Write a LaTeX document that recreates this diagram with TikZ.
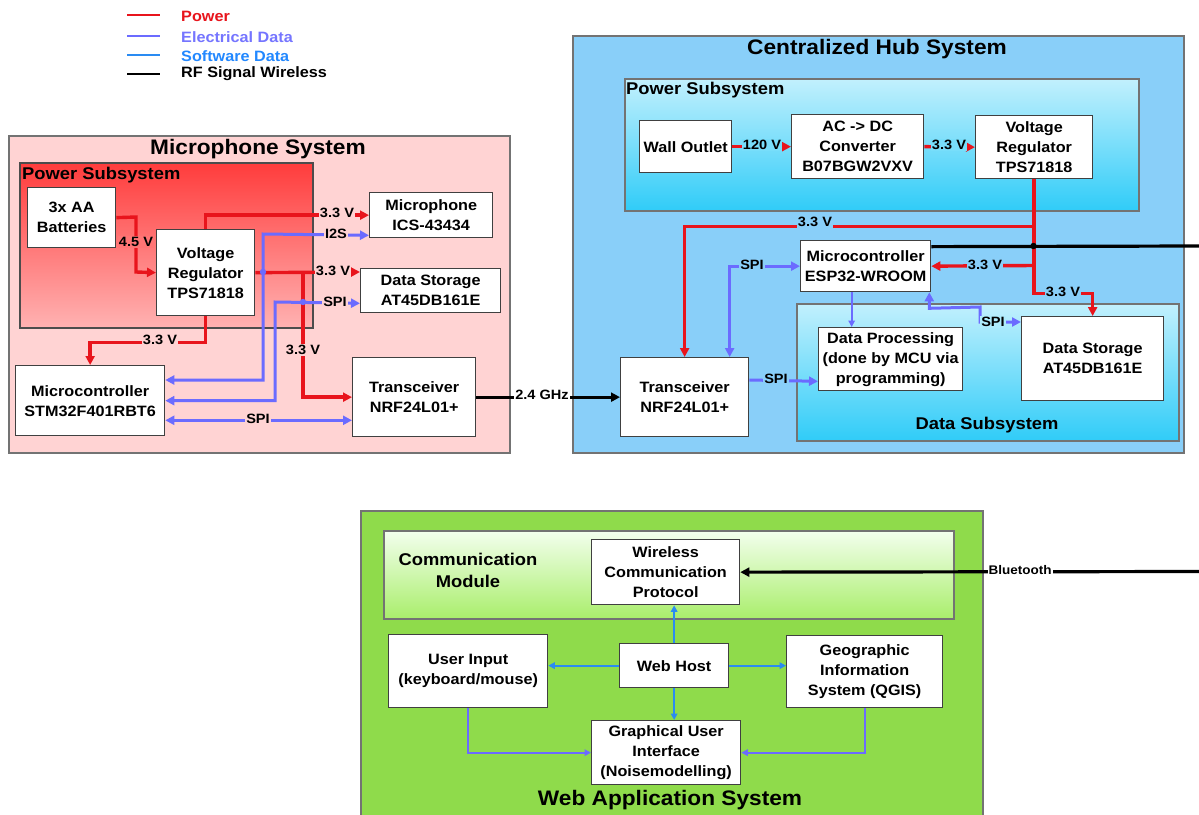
\documentclass[tikz,border=0pt]{standalone}
\usepackage{fontspec}
\setmainfont{Liberation Sans}[FakeStretch=1.08]
\usetikzlibrary{arrows.meta,calc}
\definecolor{pred}{HTML}{E8141C}
\definecolor{epur}{HTML}{6B6BFF}
\definecolor{sblu}{HTML}{2A8BF2}
\definecolor{micbg}{HTML}{FFD3D3}
\definecolor{mictop}{HTML}{FF3C3C}
\definecolor{micbot}{HTML}{FFB2B2}
\definecolor{hubbg}{HTML}{89CFF9}
\definecolor{cyantop}{HTML}{C2F0FD}
\definecolor{cyanbot}{HTML}{30CCF8}
\definecolor{webbg}{HTML}{8FDB4B}
\definecolor{gtop}{HTML}{F3FFEE}
\definecolor{gbot}{HTML}{A9EE6B}
\definecolor{legpur}{HTML}{7575FF}
\definecolor{legblu}{HTML}{2288FF}
\begin{document}
\begin{tikzpicture}[x=1pt,y=-1pt,
 box/.style={draw=black!75, line width=1.3pt, fill=white, align=center, inner sep=0pt, font=\fontsize{15}{20}\selectfont\bfseries, anchor=north west},
 cont/.style={draw=black!55, line width=1.6pt, inner sep=0pt, anchor=north west},
 pw/.style={draw=pred, line width=3.4pt},
 ed/.style={draw=epur, line width=3pt},
 edt/.style={draw=epur, line width=1.8pt},
 sd/.style={draw=sblu, line width=1.8pt},
 rf/.style={draw=black, line width=3.2pt},
 tipa/.style={-{Triangle[length=9pt,width=9pt]}},
 tipb/.style={{Triangle[length=9pt,width=9pt]}-{Triangle[length=9pt,width=9pt]}},
 tipc/.style={-{Triangle[length=6.5pt,width=6.5pt]}},
 lbl/.style={font=\fontsize{13.5}{14}\selectfont\bfseries, inner sep=1pt},
 ttl/.style={font=\fontsize{21}{24}\selectfont\bfseries},
 sub/.style={font=\fontsize{17}{22}\selectfont\bfseries},
 leg/.style={font=\fontsize{15}{16}\selectfont\bfseries, anchor=west, inner sep=0pt}
]
\useasboundingbox[fill=white] (0,0) rectangle (1199,814);

% legend
\node[leg, text=pred] (lp) at (181,16) {Power};
\node[leg, text=legpur] (le) at (181,37) {Electrical Data};
\node[leg, text=legblu] (ls) at (181,56) {Software Data};
\node[leg] (lr) at (181,74) {RF Signal Wireless};
\draw[pred, line width=2.2pt] ($(lp.west)+(-54,-1)$) -- ($(lp.west)+(-21,-1)$);
\draw[epur, line width=2.2pt] ($(le.west)+(-54,-1)$) -- ($(le.west)+(-21,-1)$);
\draw[sblu, line width=2.2pt] ($(ls.west)+(-54,-1)$) -- ($(ls.west)+(-21,-1)$);
\draw[black, line width=2.2pt] ($(lr.west)+(-54,0)$) -- ($(lr.west)+(-21,0)$);

% containers
\node[cont, fill=micbg, minimum width=501, minimum height=317] (micsys) at (8,135) {};
\node[ttl] (micttl) at (258,149) {Microphone System};
\node[cont, draw=black!70, top color=mictop, bottom color=micbot, minimum width=293, minimum height=165] (micpow) at (19,162) {};
\node[sub, anchor=west, inner sep=0pt] (micpowt) at (22,175) {Power Subsystem};

\node[cont, fill=hubbg, minimum width=611, minimum height=417] (hubsys) at (572,35) {};
\node[ttl] (hubttl) at (877,49) {Centralized Hub System};
\node[cont, top color=cyantop, bottom color=cyanbot, minimum width=514, minimum height=132] (hubpow) at (624,78) {};
\node[sub, anchor=west, inner sep=0pt] (hubpowt) at (626,90) {Power Subsystem};
\node[cont, top color=cyantop, bottom color=cyanbot, minimum width=382, minimum height=137] (datasub) at (796,303) {};
\node[sub] (datasubt) at (987,425) {Data Subsystem};

\node[cont, fill=webbg, minimum width=622, minimum height=330] (websys) at (360,510) {};
\node[cont, top color=gtop, bottom color=gbot, minimum width=570, minimum height=88] (comm) at (383,530) {};
\node[sub, align=center] (commt) at (468,570) {Communication\\Module};
\node[ttl] (webttl) at (670,800) {Web Application System};

% boxes microphone
\node[box, minimum width=88, minimum height=60] (bat) at (27,187) {3x AA\\Batteries};
\node[box, minimum width=98, minimum height=86] (reg) at (156,229) {Voltage\\Regulator\\TPS71818};
\node[box, minimum width=123, minimum height=45] (mic) at (369,192) {Microphone\\ICS-43434};
\node[box, minimum width=140, minimum height=44] (mds) at (360,268) {Data Storage\\AT45DB161E};
\node[box, minimum width=149, minimum height=70] (mcu) at (15,365) {Microcontroller\\STM32F401RBT6};
\node[box, minimum width=123, minimum height=79] (trx) at (352,357) {Transceiver\\NRF24L01+};

% boxes hub
\node[box, minimum width=92, minimum height=52] (wall) at (639,120) {Wall Outlet};
\node[box, minimum width=132, minimum height=64] (acdc) at (791,114) {AC -> DC\\Converter\\B07BGW2VXV};
\node[box, minimum width=117, minimum height=63] (hreg) at (975,115) {Voltage\\Regulator\\TPS71818};
\node[box, minimum width=130, minimum height=51] (esp) at (800,240) {Microcontroller\\ESP32-WROOM};
\node[box, minimum width=144, minimum height=63] (dp) at (818,327) {Data Processing\\(done by MCU via\\programming)};
\node[box, minimum width=142, minimum height=84] (hds) at (1021,316) {Data Storage\\AT45DB161E};
\node[box, minimum width=128, minimum height=79] (htrx) at (620,357) {Transceiver\\NRF24L01+};

% boxes web
\node[box, minimum width=148, minimum height=65] (wcp) at (591,539) {Wireless\\Communication\\Protocol};
\node[box, minimum width=109, minimum height=44] (host) at (619,643) {Web Host};
\node[box, minimum width=159, minimum height=73] (ui) at (388,634) {User Input\\(keyboard/mouse)};
\node[box, minimum width=156, minimum height=72] (gis) at (786,635) {Geographic\\Information\\System (QGIS)};
\node[box, minimum width=149, minimum height=64] (gui) at (591,720) {Graphical User\\Interface\\(Noisemodelling)};

% microphone wires
\draw[pw,tipa] (bat.east) -- (136,217) -- (136,272) -- (reg.west);
\draw[pw,tipa] (reg.north) |- (mic.west);
\draw[pw,tipa] (reg.east) -- ($(mds.north west)+(0,4)$);
\coordinate (j1) at (303,272);
\draw[pw,tipa] (j1) |- (trx.west);
\draw[pw,tipa] (reg.south) -- ++(0,26) -| (mcu.north);
\draw[ed,tipb] ($(mcu.north east)+(0,15)$) -| (263,234) -- ($(mic.south west)+(0,-3)$);
\draw[ed,tipb] (mcu.east) -| (275,302) -- ($(mds.south west)+(0,-10)$);
\draw[ed,tipb] ($(mcu.south east)+(0,-16)$) -- ($(trx.south west)+(0,-17)$);
\fill[epur] (263,272) circle (3.2) (303,302) circle (3.2);
\draw[rf,tipa] (trx.east) -- (htrx.west);

% hub wires
\draw[pw,tipa] (wall.east) -- (acdc.west);
\draw[pw,tipa] (acdc.east) -- (hreg.west);
\draw[pw,tipa] (hreg.south) -- ++(0,47) -| (htrx.north);
\draw[pw,tipa] (hreg.south) -- ++(0,114) -| (hds.north);
\coordinate (hj) at (1033.5,265.5);
\draw[pw,tipa] (hj) -- (esp.east);
\coordinate (rfout) at (1199,246);
\draw[rf] ($(esp.east)+(0,-19.5)$) -- (rfout);
\fill (1033.5,246) circle (3.2);
\draw[ed,tipb] ($(htrx.north)+(45,0)$) |- (esp.west);
\coordinate (e1) at ($(esp.south)+(-14,0)$);
\draw[edt,tipc] (e1) -- (e1 |- dp.north);
\coordinate (e2) at ($(esp.south east)+(-2,0)$);
\draw[ed,tipb] (e2) -- ++(0,16) -- (980,307) -- (980,322) -- ($(hds.north west)+(0,6)$);
\draw[ed,tipa] ($(htrx.north east)+(0,23)$) -- ($(dp.south west)+(0,-10)$);

% web wires
\draw[sd,tipc] (host.north) -- (host.north |- wcp.south);
\draw[sd,tipc] (host.west) -- (host.west -| ui.east);
\draw[sd,tipc] (host.east) -- (host.east -| gis.west);
\draw[sd,tipc] (host.south) -- (host.south |- gui.north);
\draw[edt,tipc] (ui.south) |- (gui.west);
\draw[edt,tipc] (gis.south) |- (gui.east);
\coordinate (btin) at (1199,571.5);
\draw[rf,tipa] (btin) -- (wcp.east);

% labels
\node[lbl, fill=micbot!48!mictop] (t1) at (136,242) {4.5 V};
\node[lbl, fill=micbg] (t2) at (337,213) {3.3 V};
\node[lbl, fill=micbg] (t3) at (333,271) {3.3 V};
\node[lbl, fill=micbg] (t4) at (303,350) {3.3 V};
\node[lbl, fill=micbg] (t5) at (160,340) {3.3 V};
\node[lbl, fill=micbg] (t6) at (336,234) {I2S};
\node[lbl, fill=micbg] (t7) at (335,302) {SPI};
\node[lbl, fill=micbg] (t8) at (258,419) {SPI};
\node[lbl, fill=white] (t9) at (542,395) {2.4 GHz};
\node[lbl, fill=cyanbot!51!cyantop] (t10) at (762,145) {120 V};
\node[lbl, fill=cyanbot!51!cyantop] (t11) at (949,145) {3.3 V};
\node[lbl, fill=hubbg] (t12) at (815,222) {3.3 V};
\node[lbl, fill=hubbg] (t13) at (985,265) {3.3 V};
\node[lbl, fill=hubbg] (t14) at (1063,292) {3.3 V};
\node[lbl, fill=hubbg] (t15) at (752,265) {SPI};
\node[lbl, fill=cyanbot!14!cyantop] (t16) at (993,322) {SPI};
\node[lbl, fill=hubbg] (t17) at (776,379) {SPI};
\node[lbl, fill=white, font=\fontsize{12.5}{13}\selectfont\bfseries] (t18) at (1020,570) {Bluetooth};
\end{tikzpicture}
\end{document}
